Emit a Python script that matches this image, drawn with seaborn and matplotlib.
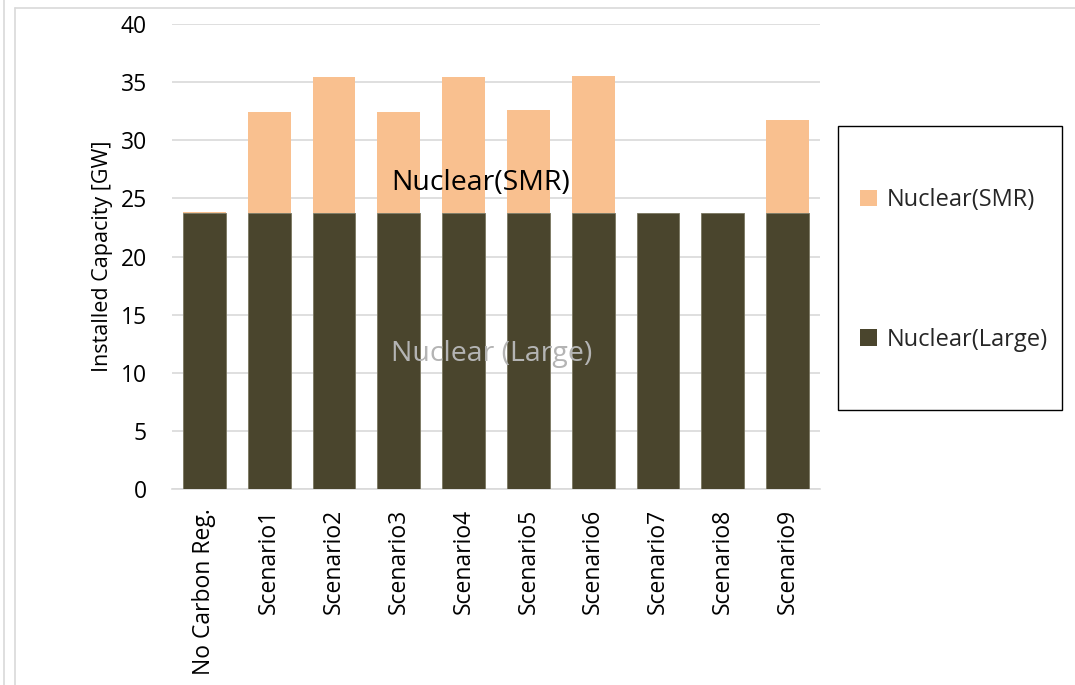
import matplotlib
matplotlib.use("Agg")
import matplotlib.pyplot as plt
import seaborn as sns
import numpy as np
import pandas as pd
from matplotlib.patches import Rectangle, Patch
from matplotlib.lines import Line2D

categories = ["No Carbon Reg.", "Scenario1", "Scenario2", "Scenario3", "Scenario4",
              "Scenario5", "Scenario6", "Scenario7", "Scenario8", "Scenario9"]
large = [23.7, 23.7, 23.7, 23.7, 23.7, 23.7, 23.7, 23.7, 23.7, 23.7]
smr = [0.15, 8.7, 11.7, 8.7, 11.7, 8.9, 11.8, 0.0, 0.0, 8.0]
yticks = [0, 5, 10, 15, 20, 25, 30, 35, 40]

sns.set_theme(style="white")
plt.rcParams["font.family"] = ["Open Sans", "DejaVu Sans"]

C_LARGE = "#4A452D"
C_SMR = "#F9C08F"

df = pd.DataFrame({"cat": categories, "large": large, "smr": smr})

fig = plt.figure(figsize=(10.75, 6.85), dpi=100)
ax = fig.add_axes([172/1075, 1-489/685, (820-172)/1075, (489-24)/685])

sns.barplot(data=df, x="cat", y="large", color=C_LARGE, width=0.66, ax=ax,
            saturation=1, edgecolor="#7a7660", linewidth=0.6, zorder=3)
sns.barplot(data=df, x="cat", y="smr", color=C_SMR, width=0.66, ax=ax,
            saturation=1, bottom=df["large"], linewidth=0, zorder=3)

ax.set_ylim(0, 40)
ax.set_yticks(yticks)
ax.yaxis.grid(True, color="#d9d9d9", linewidth=1.2, zorder=0)
ax.set_axisbelow(True)
for s in ["top", "right", "left"]:
    ax.spines[s].set_visible(False)
ax.spines["bottom"].set_color("#d9d9d9")
ax.spines["bottom"].set_linewidth(1.2)
ax.set_xlabel("")
ax.set_ylabel("Installed Capacity [GW]", fontsize=15.5, color="#000000")
ax.yaxis.set_label_coords(-0.091, 0.5)
ax.tick_params(axis="y", labelsize=16.5, colors="#000000", pad=18, length=0)
ax.tick_params(axis="x", labelsize=16.5, colors="#000000", pad=14, length=0)
plt.setp(ax.get_xticklabels(), rotation=90)
ax.set_xlim(-0.5, len(categories) - 0.5)

ax.text(4.27, 26.3, "Nuclear(SMR)", fontsize=20.5, color="#000000",
        ha="center", va="center", zorder=5)
ax.text(4.43, 11.6, "Nuclear (Large)", fontsize=20.5, color="#b4b4b4",
        ha="center", va="center", zorder=5)

# legend frame
fig.patches.append(Rectangle((838/1075, 1-410/685), 224/1075, 284/685,
                             transform=fig.transFigure, fill=False,
                             edgecolor="#000000", linewidth=1.0))
handles = [Patch(facecolor=C_SMR, edgecolor="none"),
           Patch(facecolor=C_LARGE, edgecolor="none")]
leg = fig.legend(handles, ["Nuclear(SMR)", "Nuclear(Large)"],
                 loc="center left", bbox_to_anchor=(860/1075, 1-270/685),
                 frameon=False, fontsize=17, labelspacing=4.9,
                 handlelength=0.7, handleheight=0.7, handletextpad=0.45,
                 borderaxespad=0, borderpad=0)

# outer chart border
fig.add_artist(Line2D([15/1075, 1], [1-8/685, 1-8/685], transform=fig.transFigure,
                      color="#d9d9d9", linewidth=1.2))
fig.add_artist(Line2D([15/1075, 15/1075], [0, 1-8/685], transform=fig.transFigure,
                      color="#d9d9d9", linewidth=1.2))
fig.add_artist(Line2D([4/1075, 4/1075], [0, 1], transform=fig.transFigure,
                      color="#d9d9d9", linewidth=1.2))

fig.savefig("out.png", dpi=100, facecolor="white")
